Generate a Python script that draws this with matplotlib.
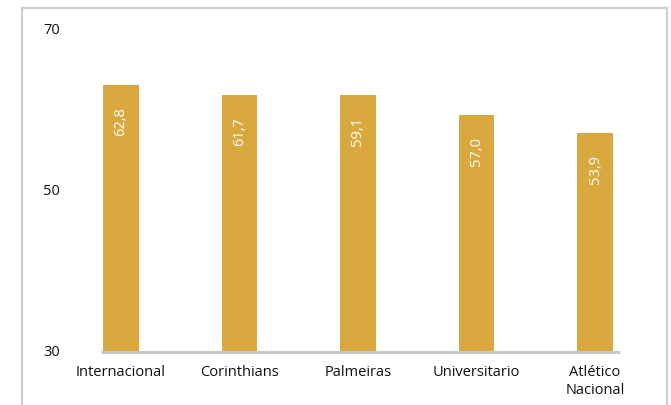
import matplotlib
matplotlib.use("Agg")
import matplotlib.pyplot as plt
from matplotlib.lines import Line2D
from matplotlib.transforms import ScaledTranslation

categories = ["Internacional", "Corinthians", "Palmeiras", "Universitario", "Atlético\nNacional"]
bar_heights = [63.3, 62.0, 62.0, 59.5, 57.3]
bar_labels = ["62,8", "61,7", "59,1", "57,0", "53,9"]
y_ticks = [30, 50, 70]

plt.rcParams['font.family'] = ['Open Sans', 'DejaVu Sans']

W, H = 671, 405
fig = plt.figure(figsize=(W / 100, H / 100), dpi=100)
fig.patch.set_facecolor("white")

L, R, T, B = 61.75, 61.75 + 592.5, 31, 352
ax = fig.add_axes([L / W, 1 - B / H, (R - L) / W, (B - T) / H])
ax.set_facecolor("none")

x = list(range(len(categories)))
ax.bar(x, [h - 30 for h in bar_heights], bottom=30, width=0.30, color="#D9A940", zorder=2)

for xi, h, lab in zip(x, bar_heights, bar_labels):
    ax.annotate(lab, xy=(xi, h), xytext=(0, -22), textcoords="offset pixels",
                rotation=90, ha="center", va="top", color="white", fontsize=10.5,
                fontweight="medium", zorder=3)

ax.set_xlim(-0.5, 4.5)
ax.set_ylim(30, 70)
ax.set_yticks(y_ticks)
ax.set_yticklabels([str(v) for v in y_ticks])
ax.set_xticks(x)
ax.set_xticklabels(categories, linespacing=1.3)
ax.tick_params(axis="y", length=0, pad=1, labelsize=10.5, labelcolor="#111111")
ax.tick_params(axis="x", length=0, pad=9.5, labelsize=10.5, labelcolor="#111111")
for lab in ax.get_yticklabels():
    lab.set_transform(lab.get_transform() + ScaledTranslation(0, 2 / 100, fig.dpi_scale_trans))
for s in ax.spines.values():
    s.set_visible(False)

# baseline
ax.plot([-0.17, 4.21], [30, 30], color="#c8c8c8", lw=2.2, clip_on=False, zorder=3, solid_capstyle="butt")

# outer frame
fc = "#cfcfcf"
fig.add_artist(Line2D([22 / W, 22 / W], [0, 1 - 8 / H], transform=fig.transFigure, color=fc, lw=1.6))
fig.add_artist(Line2D([22 / W, 667 / W], [1 - 8 / H, 1 - 8 / H], transform=fig.transFigure, color=fc, lw=1.6))
fig.add_artist(Line2D([667 / W, 667 / W], [0, 1 - 8 / H], transform=fig.transFigure, color=fc, lw=1.6))

fig.savefig("out.png", dpi=100, facecolor="white")
